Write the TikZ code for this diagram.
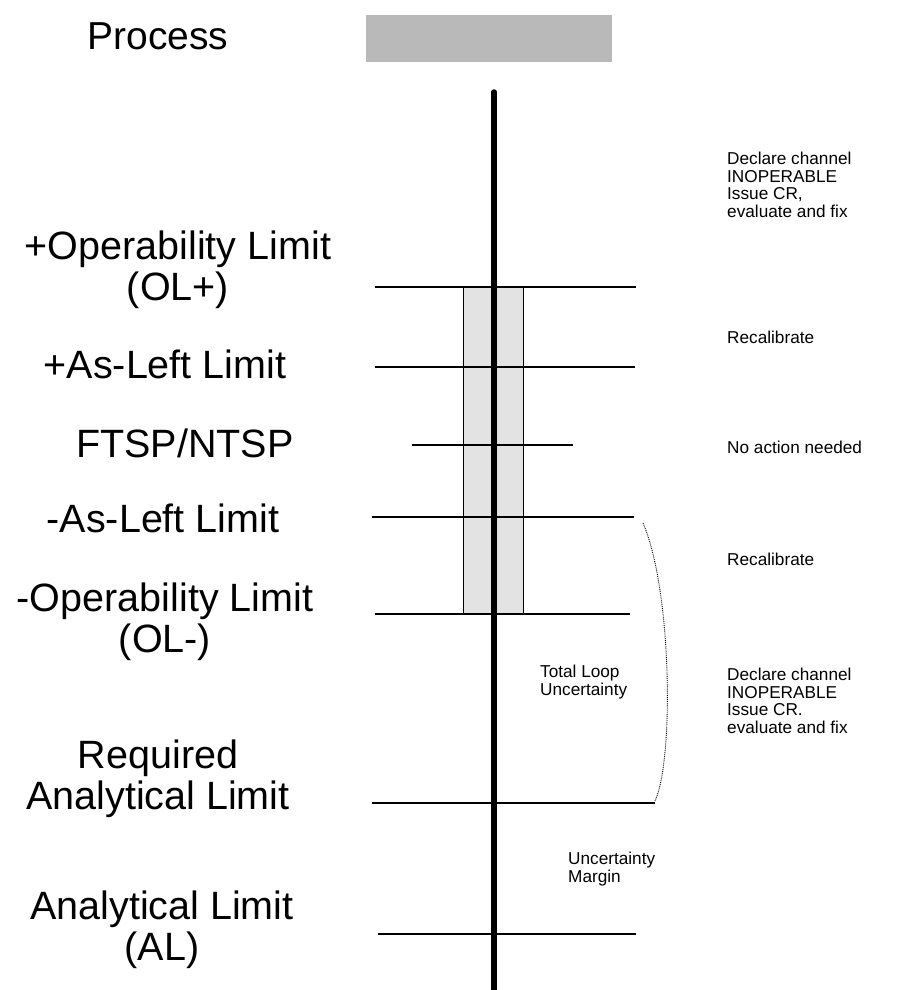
\documentclass[tikz,border=0pt]{standalone}
\usepackage{fontspec}
\setmainfont{Liberation Sans}
\usetikzlibrary{positioning}
\usetikzlibrary{calc}

\tikzset{
  biglabel/.style={align=center, font=\fontsize{39.5}{41}\selectfont, inner sep=0pt},
  action/.style={align=left, anchor=west, font=\fontsize{17.2}{17.6}\selectfont, inner sep=0pt},
  limitline/.style={line width=1.1pt},
  band/.style={fill=gray!22, draw=black, line width=1pt}
}

\begin{document}
\begin{tikzpicture}[x=1pt,y=-1pt]
	\useasboundingbox (0,0) rectangle (909,990);

	% Process bar
	\node[biglabel, font=\fontsize{39}{41}\selectfont] (proc) at (158,36) {Process};
	\fill[gray!55] (366,15) rectangle (612,62);

	% Tolerance bands
	\filldraw[band] (463,287) rectangle (492,614);
	\filldraw[band] (496,287) rectangle (523,614);

	% Limit lines
	\coordinate (olpL) at (375,287);  \coordinate (olpR) at (636,287);
	\coordinate (alpL) at (375,367);  \coordinate (alpR) at (635,367);
	\coordinate (spL)  at (412,445);  \coordinate (spR)  at (573,445);
	\coordinate (almL) at (372,517);  \coordinate (almR) at (634,517);
	\coordinate (olmL) at (375,614);  \coordinate (olmR) at (630,614);
	\coordinate (ralL) at (372,803);  \coordinate (ralR) at (655,803);
	\coordinate (alL)  at (378,934);  \coordinate (alR)  at (636,934);
	\draw[limitline] (olpL) -- (olpR);
	\draw[limitline] (alpL) -- (alpR);
	\draw[limitline] (spL) -- (spR);
	\draw[limitline] (almL) -- (almR);
	\draw[limitline] (olmL) -- (olmR);
	\draw[limitline] (ralL) -- (ralR);
	\draw[limitline] (alL) -- (alR);

	% Process axis
	\coordinate (axtop) at (494,92);
	\coordinate (axbot) at (494,990);
	\draw[line width=5.5pt, line cap=round] (axtop) -- (axbot);

	% Left labels
	\node[biglabel] (olp) at (178,270) {+Operability Limit\\(OL+)};
	\node[biglabel] (alp) at (165,364) {+As-Left Limit};
	\node[biglabel] (sp)  at (185,443) {FTSP/NTSP};
	\node[biglabel] (alm) at (163,518) {-As-Left Limit};
	\node[biglabel] (olm) at (165,622) {-Operability Limit\\(OL-)};
	\node[biglabel] (ral) at (158,779) {Required\\Analytical Limit};
	\node[biglabel] (al)  at (162,930) {Analytical Limit\\(AL)};

	% Right labels
	\node[action] (act1) at (727,185) {Declare channel\\INOPERABLE\\Issue CR,\\evaluate and fix};
	\node[action] (act2) at (727,337) {Recalibrate};
	\node[action] (act3) at (727,447) {No action needed};
	\node[action] (act4) at (727,559) {Recalibrate};
	\node[action] (act5) at (727,701) {Declare channel\\INOPERABLE\\Issue CR.\\evaluate and fix};

	% Uncertainties
	\coordinate (brtop) at (643,523);
	\coordinate (brbot) at (655,801);
	\draw[densely dotted, line width=0.9pt] (brtop) .. controls (672,590) and (674,760) .. (brbot);
	\node[action] (tlu) at (540,682) {Total Loop\\Uncertainty};
	\node[action] (um)  at (568,869) {Uncertainty\\Margin};
\end{tikzpicture}
\end{document}
